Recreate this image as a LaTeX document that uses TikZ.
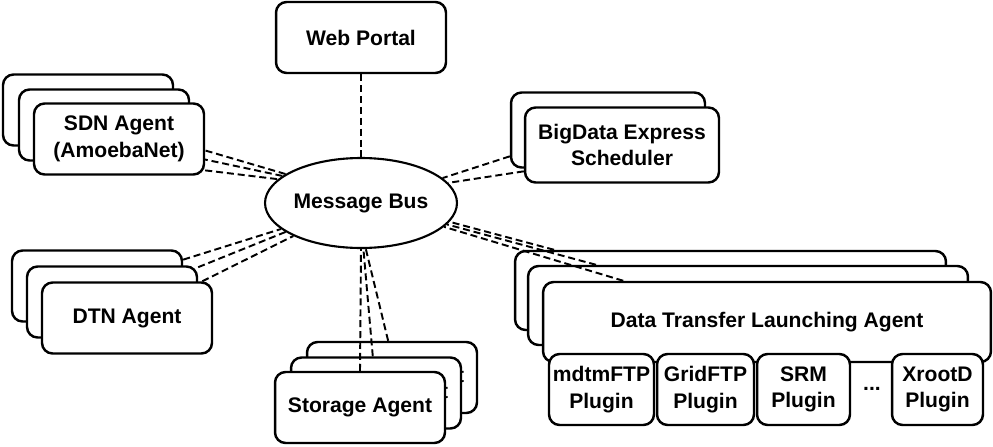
\documentclass[tikz,border=0pt]{standalone}
\usepackage{fontspec}
\setmainfont{Liberation Sans}
\usetikzlibrary{shapes.geometric}

\begin{document}
\begin{tikzpicture}[x=0.02cm, y=-0.02cm,
        box/.style = {draw, line width=1.4pt, rounded corners=6pt, fill=white, align=center, inner sep=0pt, font=\bfseries\fontsize{12}{15}\selectfont},
        agent/.style = {box, minimum width=3.4cm, minimum height=1.42cm},
        dtla/.style = {box, minimum height=1.58cm},
        plugin/.style = {box, minimum height=1.42cm},
        link/.style = {line width=1.1pt, dash pattern=on 4pt off 2.2pt}]
    \useasboundingbox (0,0) rectangle (993,446);

    % message bus and web portal
    \node[draw, ellipse, line width=1.2pt, fill=white, minimum width=3.84cm, minimum height=1.8cm, inner sep=0pt, font=\bfseries\fontsize{12}{15}\selectfont] (bus) at (361,203) {Message Bus};
    \node[agent] (web) at (361,37.5) {Web Portal};
    \draw[link] (web.south) -- (bus.north);

    % SDN agents
    \node[agent] (sdnA) at (88,110) {};
    \draw[link] (sdnA.-20) -- (bus.159);
    \node[agent] (sdnB) at (104,125) {};
    \draw[link] (sdnB.-20) -- (bus.161);
    \node[agent] (sdnC) at (119,139) {SDN Agent\\(AmoebaNet)};
    \draw[link] (sdnC.-20) -- (bus.164);

    % scheduler
    \node[box, minimum width=3.88cm, minimum height=1.5cm] (bdA) at (608,130) {};
    \draw[link] (bdA.195) -- (bus.17);
    \node[box, minimum width=3.88cm, minimum height=1.5cm] (bdB) at (622,145) {BigData Express\\Scheduler};
    \draw[link] (bdB.195) -- (bus.13);

    % DTN agents
    \node[agent] (dtnA) at (97,286) {};
    \draw[link] (dtnA.17) -- (bus.198);
    \node[agent] (dtnB) at (112,302) {};
    \draw[link] (dtnB.22) -- (bus.201);
    \node[agent] (dtnC) at (127,318) {DTN Agent};
    \draw[link] (dtnC.26) -- (bus.206);

    % storage agents
    \node[agent] (stA) at (392,377.5) {Storage Agent};
    \draw[link] (stA.96) -- (bus.-84);
    \node[agent] (stB) at (376,393) {Storage Agent};
    \draw[link] (stB.95) -- (bus.-87);
    \node[agent] (stC) at (360,407.5) {Storage Agent};
    \draw[link] (stC.north) -- (bus.-90);

    % data transfer launching agents
    \node[dtla, minimum width=8.62cm] (dtA) at (730.5,290.5) {};
    \draw[link] (dtA.167) -- (bus.-12);
    \node[dtla, minimum width=8.8cm] (dtB) at (748,305.5) {};
    \draw[link] (dtB.165.5) -- (bus.-14);
    \node[dtla, minimum width=8.96cm, minimum height=1.6cm] (dtC) at (767,322) {Data Transfer Launching Agent};
    \draw[link] (dtC.164.5) -- (bus.-16);

    % plugins
    \node[plugin, minimum width=2.1cm] (mdtm) at (601.5,389.5) {mdtmFTP\\Plugin};
    \node[plugin, minimum width=1.94cm] (grid) at (705.5,389.5) {GridFTP\\Plugin};
    \node[plugin, minimum width=1.86cm] (srm) at (803.5,389.5) {SRM\\Plugin};
    \node[font=\bfseries\fontsize{12}{15}\selectfont] (dots) at (872,389) {...};
    \node[plugin, minimum width=1.82cm] (xrootd) at (937.5,389.5) {XrootD\\Plugin};
\end{tikzpicture}
\end{document}
